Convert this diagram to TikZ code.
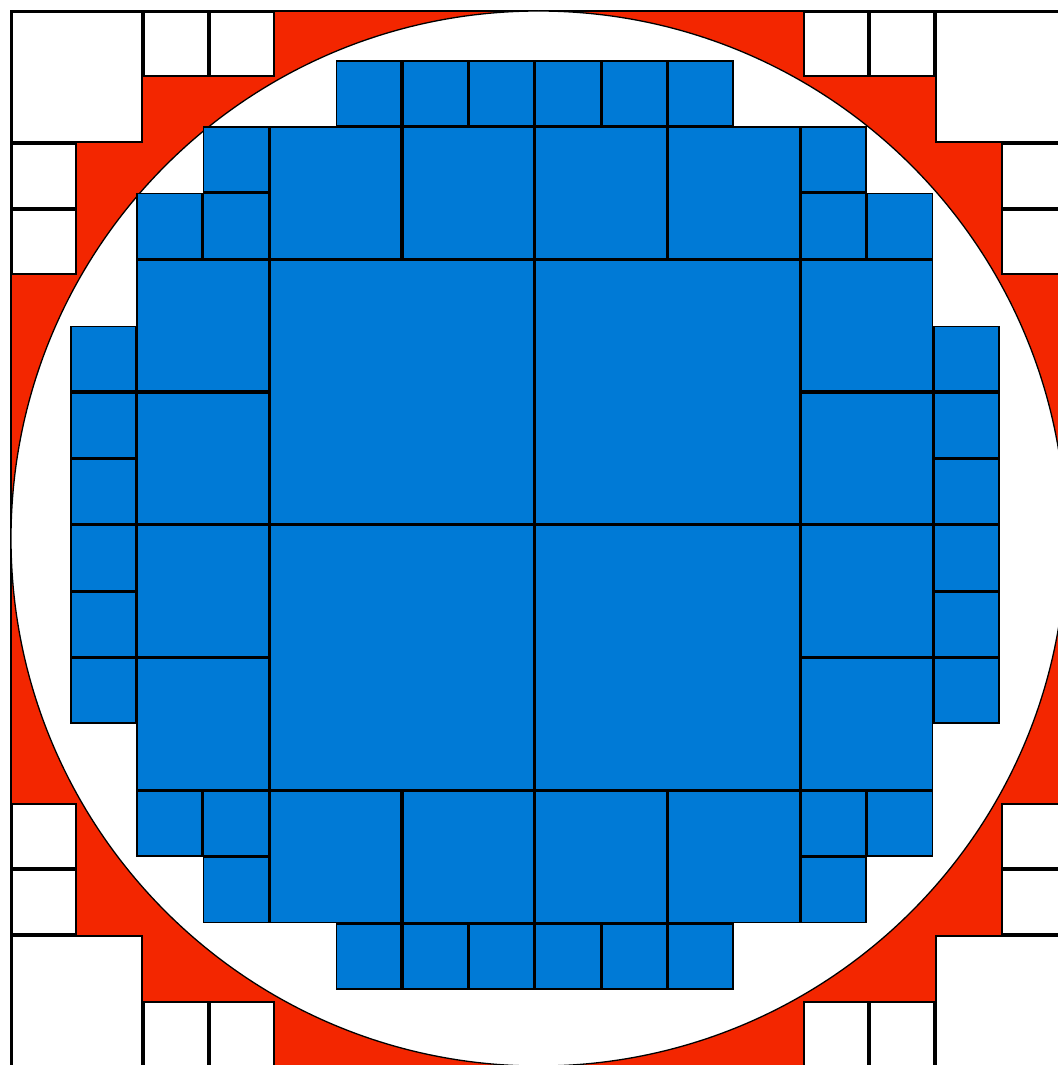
\documentclass[tikz,border=0pt]{standalone}
\definecolor{cellred}{RGB}{243,38,0}
\definecolor{cellblue}{RGB}{0,122,214}
\tikzset{
  outline/.style={black},
  redfill/.style={fill=cellred,draw=black,line width=1.6pt},
  circlestyle/.style={fill=white,draw=black,line width=1.3pt}
}
\begin{document}
\begin{tikzpicture}[x=1pt,y=-1pt]
\useasboundingbox (0,0) rectangle (1057,1065);
\fill[white] (-10,-10) rectangle (1080,1080);
% whole square, red
\filldraw[redfill] (11,11) rectangle (1067,1067);
% white cells outside the circle (outer grid: origin 11, unit 66)
\foreach \c/\r/\s in {0/0/2,2/0/1,3/0/1,0/2/1,0/3/1,
                      14/0/2,12/0/1,13/0/1,15/2/1,15/3/1,
                      0/14/2,0/12/1,0/13/1,2/15/1,3/15/1,
                      14/14/2,15/12/1,15/13/1,12/15/1,13/15/1}{
  \fill[outline] ({11+66*\c},{11+66*\r}) rectangle ++({66*\s},{66*\s});
  \fill[white] ({12.7+66*\c},{12.7+66*\r}) rectangle ++({66*\s-3.4},{66*\s-3.4});
}
% circle
\filldraw[circlestyle] (538.5,538.5) circle[radius=527.5];
% blue cells inside the circle (blue grid: origin (3.6,-6.4), unit 66.4)
\foreach \c/\r/\s in {5/1/1,6/1/1,7/1/1,8/1/1,9/1/1,10/1/1,
  3/2/1,2/3/1,3/3/1,4/2/2,6/2/2,8/2/2,10/2/2,12/2/1,12/3/1,13/3/1,
  1/5/1,1/6/1,1/7/1,2/4/2,2/6/2,4/4/4,8/4/4,12/4/2,12/6/2,14/5/1,14/6/1,14/7/1,
  1/8/1,1/9/1,1/10/1,2/8/2,2/10/2,4/8/4,8/8/4,12/8/2,12/10/2,14/8/1,14/9/1,14/10/1,
  2/12/1,3/12/1,3/13/1,4/12/2,6/12/2,8/12/2,10/12/2,12/12/1,12/13/1,13/12/1,
  5/14/1,6/14/1,7/14/1,8/14/1,9/14/1,10/14/1}{
  \fill[outline] ({3.6+66.4*\c},{-6.4+66.4*\r}) rectangle ++({66.4*\s},{66.4*\s});
  \fill[cellblue] ({5.2+66.4*\c},{-4.8+66.4*\r}) rectangle ++({66.4*\s-3.2},{66.4*\s-3.2});
}
\end{tikzpicture}
\end{document}
